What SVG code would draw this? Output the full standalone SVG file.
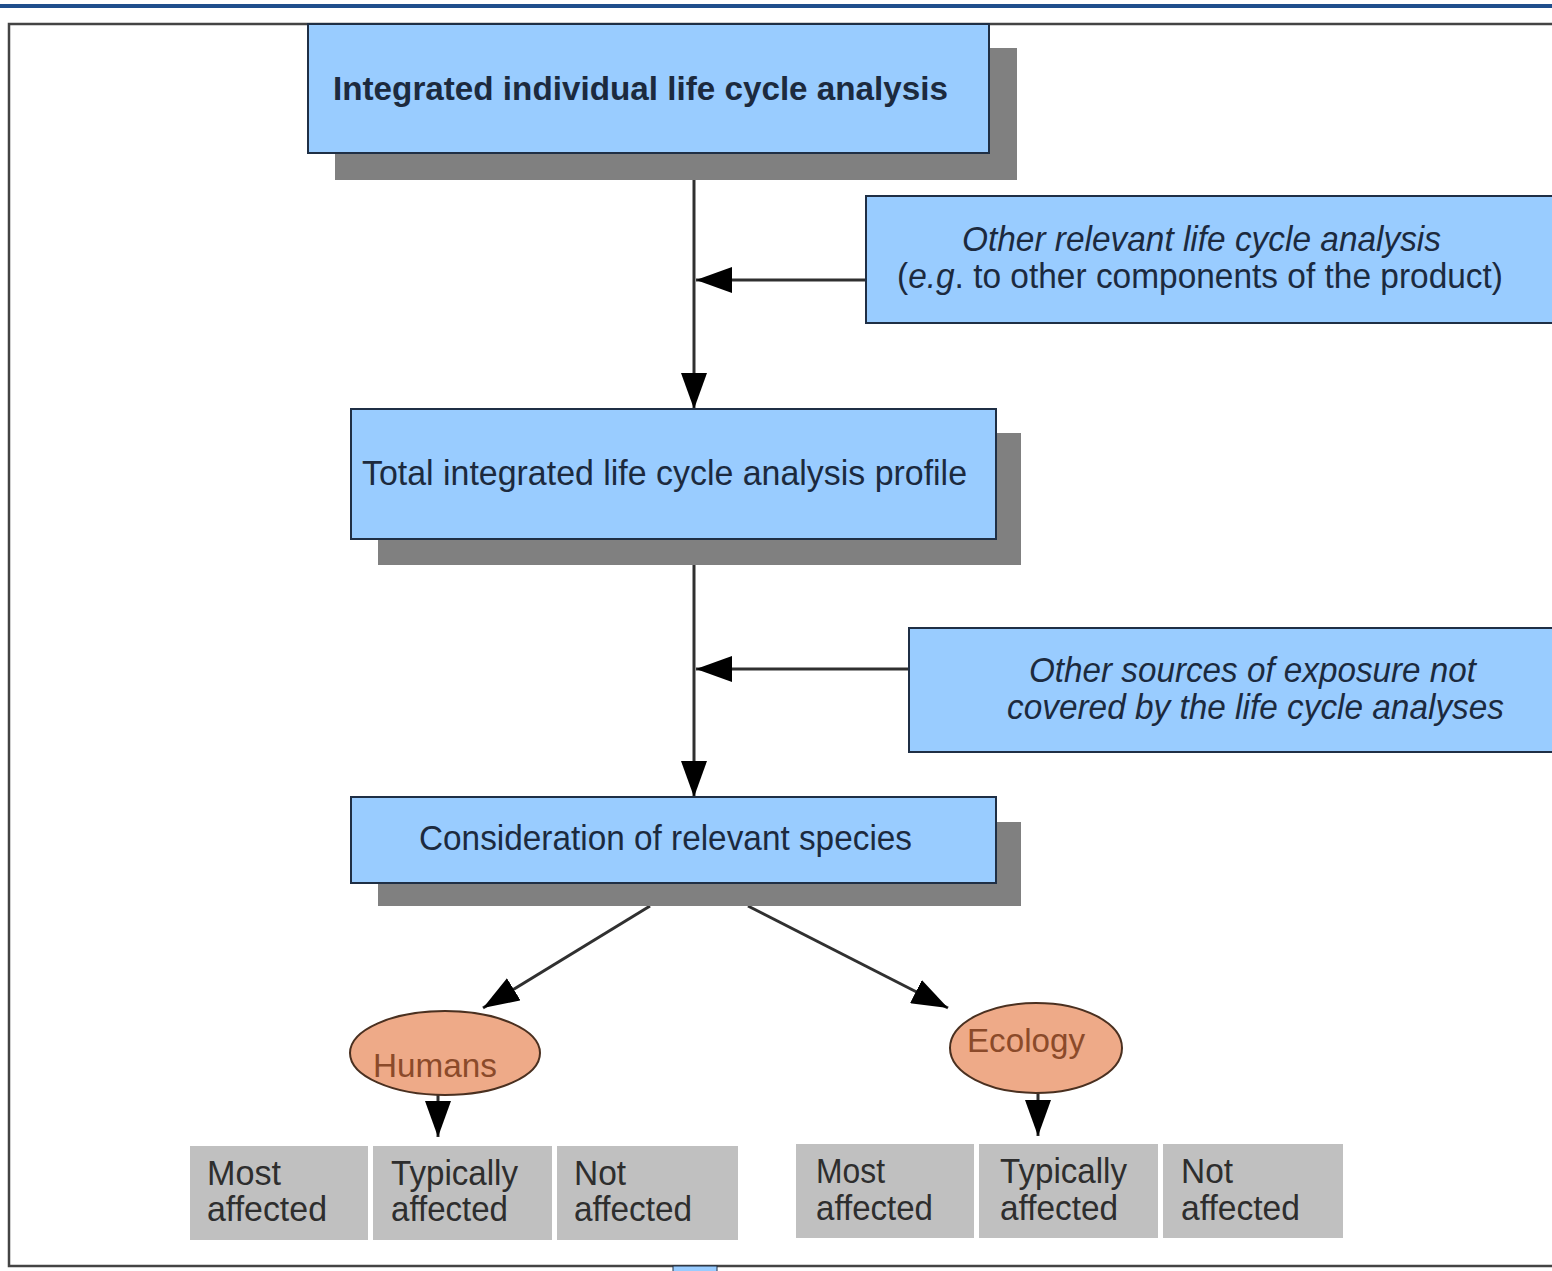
<svg xmlns="http://www.w3.org/2000/svg" width="1552" height="1271" viewBox="0 0 1552 1271">
<style>
.box{fill:#99ccff;stroke:#1f2f45;stroke-width:2}
.shadow{fill:#808080}
.gray{fill:#c0c0c0}
.t{font-family:"Liberation Sans",Arial,sans-serif;fill:#1c2a3e;font-size:35px}
.b{font-weight:bold;font-size:33px}
.i{font-style:italic}
.g{font-family:"Liberation Sans",Arial,sans-serif;fill:#2e2e2e;font-size:35px}
.ell{fill:#eeaa88;stroke:#4a3020;stroke-width:2}
.et{font-family:"Liberation Sans",Arial,sans-serif;fill:#8b4a2a;font-size:33px}
.ln{stroke:#303030;stroke-width:3;fill:none}
</style>
<defs>
<marker id="ah" markerUnits="userSpaceOnUse" markerWidth="36" markerHeight="26" refX="36" refY="13" viewBox="0 0 36 26" orient="auto">
<path d="M0,0 L36,13 L0,26 Z" fill="#000"/>
</marker>
</defs>
<rect x="0" y="0" width="1552" height="1271" fill="#fff"/>
<rect x="0" y="4" width="1552" height="4" fill="#1f4e8c"/>
<rect x="9" y="24" width="1560" height="1242" fill="none" stroke="#444" stroke-width="2.5"/>
<rect x="673" y="1266" width="44" height="6" fill="#99ccff" stroke="#1f2f45" stroke-width="1"/>

<g id="connectors">
<line class="ln" x1="694" y1="153" x2="694" y2="409" marker-end="url(#ah)"/>
<line class="ln" x1="866" y1="280" x2="696" y2="280" marker-end="url(#ah)"/>
<line class="ln" x1="694" y1="539" x2="694" y2="797" marker-end="url(#ah)"/>
<line class="ln" x1="909" y1="669" x2="696" y2="669" marker-end="url(#ah)"/>
<line class="ln" x1="650" y1="906" x2="483" y2="1008" marker-end="url(#ah)"/>
<line class="ln" x1="748" y1="906" x2="948" y2="1008" marker-end="url(#ah)"/>
<line class="ln" x1="438" y1="1094" x2="438" y2="1137" marker-end="url(#ah)"/>
<line class="ln" x1="1038" y1="1092" x2="1038" y2="1136" marker-end="url(#ah)"/>
</g>

<g id="node-integrated">
<rect class="shadow" x="335" y="48" width="682" height="132"/>
<rect class="box" x="308" y="24" width="681" height="129"/>
<text class="t b" x="333" y="100" textLength="615" lengthAdjust="spacingAndGlyphs">Integrated individual life cycle analysis</text>
</g>

<g id="node-other-lca">
<rect class="box" x="866" y="196" width="700" height="127"/>
<text class="t i" x="962" y="251" textLength="479" lengthAdjust="spacingAndGlyphs">Other relevant life cycle analysis</text>
<text class="t" x="897" y="288" textLength="606" lengthAdjust="spacingAndGlyphs">(<tspan font-style="italic">e.g</tspan>. to other components of the product)</text>
</g>

<g id="node-total">
<rect class="shadow" x="378" y="433" width="643" height="132"/>
<rect class="box" x="351" y="409" width="645" height="130"/>
<text class="t" x="362" y="485" textLength="605" lengthAdjust="spacingAndGlyphs">Total integrated  life cycle analysis profile</text>
</g>

<g id="node-other-sources">
<rect class="box" x="909" y="628" width="660" height="124"/>
<text class="t i" x="1029" y="682" textLength="447" lengthAdjust="spacingAndGlyphs">Other sources of exposure not</text>
<text class="t i" x="1007" y="719" textLength="497" lengthAdjust="spacingAndGlyphs">covered by the life cycle analyses</text>
</g>

<g id="node-consideration">
<rect class="shadow" x="378" y="822" width="643" height="84"/>
<rect class="box" x="351" y="797" width="645" height="86"/>
<text class="t" x="419" y="850" textLength="493" lengthAdjust="spacingAndGlyphs">Consideration of relevant species</text>
</g>

<g id="node-humans">
<ellipse class="ell" cx="445" cy="1053" rx="95" ry="42"/>
<text class="et" x="373" y="1077" textLength="124" lengthAdjust="spacingAndGlyphs">Humans</text>
</g>

<g id="node-ecology">
<ellipse class="ell" cx="1036" cy="1048" rx="86" ry="45"/>
<text class="et" x="967" y="1052" textLength="118" lengthAdjust="spacingAndGlyphs">Ecology</text>
</g>

<g id="node-h-most">
<rect class="gray" x="190" y="1146" width="178" height="94"/>
<text class="g" x="207" y="1185" textLength="74" lengthAdjust="spacingAndGlyphs">Most</text>
<text class="g" x="207" y="1221" textLength="120" lengthAdjust="spacingAndGlyphs">affected</text>
</g>
<g id="node-h-typ">
<rect class="gray" x="373" y="1146" width="179" height="94"/>
<text class="g" x="391" y="1185" textLength="127" lengthAdjust="spacingAndGlyphs">Typically</text>
<text class="g" x="391" y="1221" textLength="117" lengthAdjust="spacingAndGlyphs">affected</text>
</g>
<g id="node-h-not">
<rect class="gray" x="557" y="1146" width="181" height="94"/>
<text class="g" x="574" y="1185" textLength="52" lengthAdjust="spacingAndGlyphs">Not</text>
<text class="g" x="574" y="1221" textLength="118" lengthAdjust="spacingAndGlyphs">affected</text>
</g>

<g id="node-e-most">
<rect class="gray" x="796" y="1144" width="178" height="94"/>
<text class="g" x="816" y="1183" textLength="69" lengthAdjust="spacingAndGlyphs">Most</text>
<text class="g" x="816" y="1220" textLength="117" lengthAdjust="spacingAndGlyphs">affected</text>
</g>
<g id="node-e-typ">
<rect class="gray" x="979" y="1144" width="179" height="94"/>
<text class="g" x="1000" y="1183" textLength="127" lengthAdjust="spacingAndGlyphs">Typically</text>
<text class="g" x="1000" y="1220" textLength="118" lengthAdjust="spacingAndGlyphs">affected</text>
</g>
<g id="node-e-not">
<rect class="gray" x="1163" y="1144" width="180" height="94"/>
<text class="g" x="1181" y="1183" textLength="52" lengthAdjust="spacingAndGlyphs">Not</text>
<text class="g" x="1181" y="1220" textLength="119" lengthAdjust="spacingAndGlyphs">affected</text>
</g>
</svg>
